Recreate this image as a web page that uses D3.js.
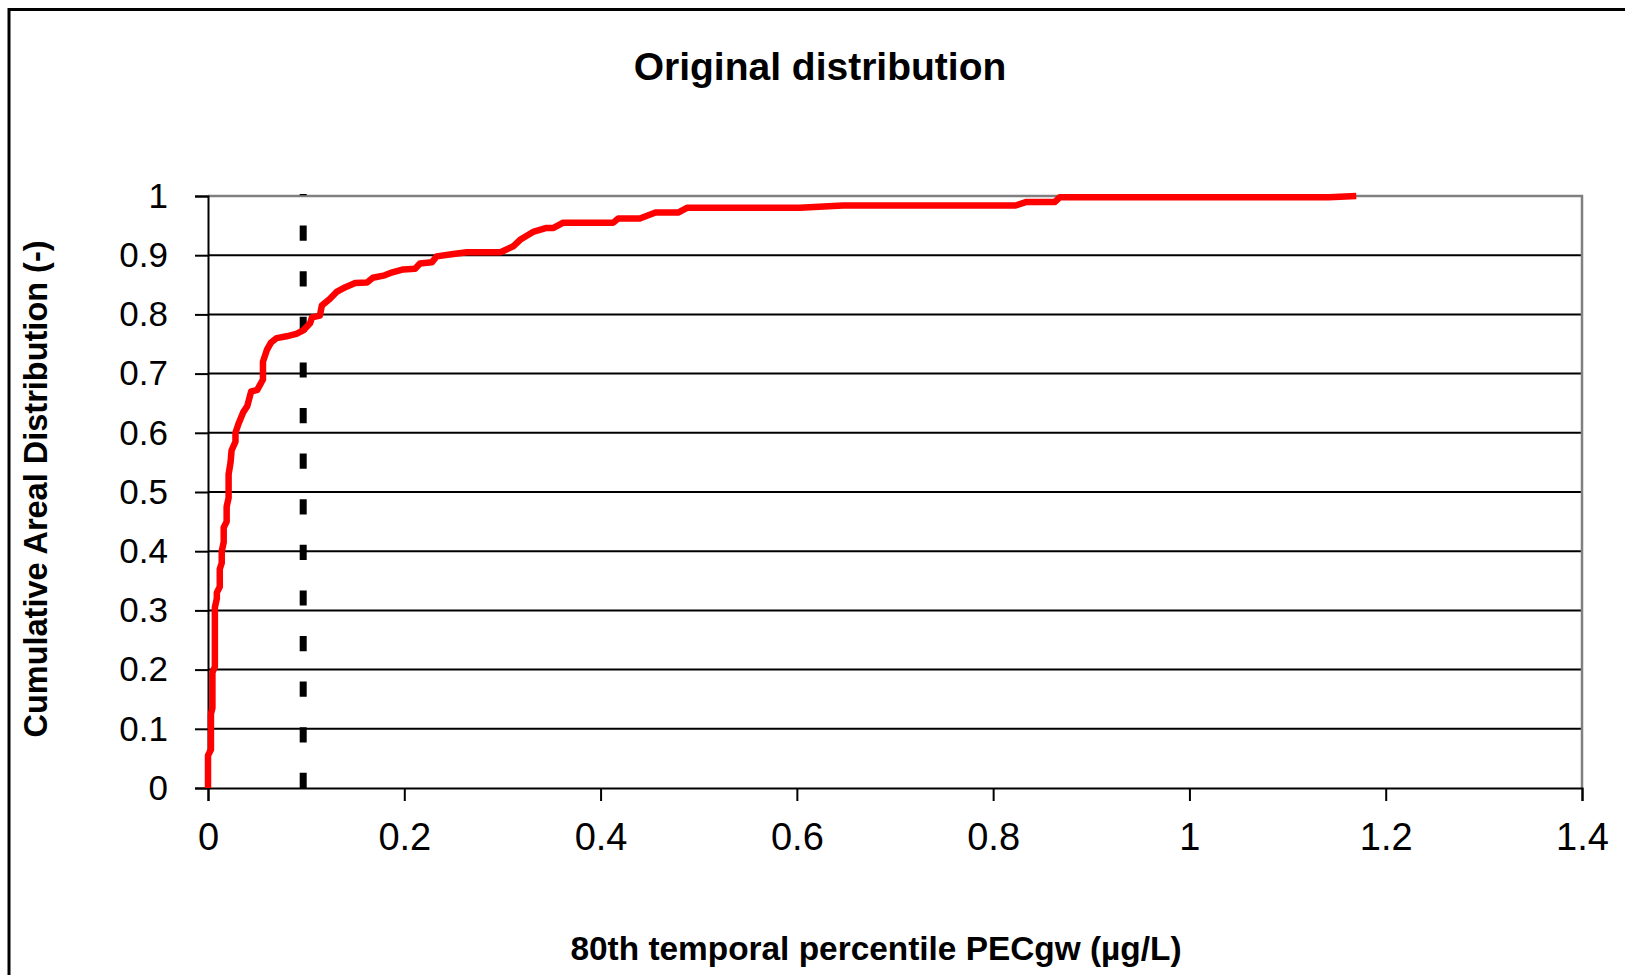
<!DOCTYPE html>
<html>
<head>
<meta charset="utf-8">
<script src="https://cdn.jsdelivr.net/npm/d3@7"></script>
<style>
  body { margin: 0; background: #fff; }
  text { font-family: "Liberation Sans", Arial, sans-serif; fill: #000; }
</style>
</head>
<body>
<div id="graph"></div>
<script>
var width = 1625;
var height = 975;

// cumulative curve
var pecValues = [0, 0.000, 0.003, 0.003, 0.0045, 0.0045, 0.007, 0.007, 0.009, 0.009,
    0.012, 0.012, 0.014, 0.014, 0.016, 0.016, 0.019, 0.019, 0.021, 0.021,
    0.023, 0.024, 0.028, 0.028, 0.031, 0.036, 0.040, 0.044, 0.050, 0.056,
    0.056, 0.060, 0.064, 0.070, 0.080, 0.090, 0.097, 0.104, 0.106, 0.114,
    0.116, 0.124, 0.131, 0.140, 0.150, 0.162, 0.168, 0.180, 0.186, 0.199,
    0.211, 0.216, 0.228, 0.233, 0.250, 0.264, 0.298, 0.311, 0.318, 0.332,
    0.345, 0.352, 0.362, 0.413, 0.418, 0.440, 0.456, 0.479, 0.488, 0.603,
    0.647, 0.823, 0.834, 0.863, 0.868, 1.142, 1.170];
var cumValues = [0, 0.055, 0.065, 0.125, 0.135, 0.195, 0.205, 0.305, 0.320, 0.330,
    0.340, 0.370, 0.380, 0.400, 0.415, 0.440, 0.450, 0.475, 0.490, 0.530,
    0.550, 0.570, 0.585, 0.600, 0.615, 0.635, 0.645, 0.670, 0.672, 0.690,
    0.720, 0.740, 0.752, 0.760, 0.763, 0.767, 0.773, 0.785, 0.795, 0.798,
    0.815, 0.826, 0.838, 0.846, 0.853, 0.854, 0.862, 0.866, 0.870, 0.876,
    0.877, 0.886, 0.888, 0.898, 0.902, 0.905, 0.905, 0.915, 0.926, 0.940,
    0.946, 0.946, 0.955, 0.955, 0.962, 0.962, 0.972, 0.972, 0.980, 0.980,
    0.984, 0.984, 0.990, 0.990, 0.998, 0.998, 1.000];
var thresholdValue = [0.097];
var xTicks = [0, 0.2, 0.4, 0.6, 0.8, 1, 1.2, 1.4];
var yTicks = [0, 0.1, 0.2, 0.3, 0.4, 0.5, 0.6, 0.7, 0.8, 0.9, 1];

var margin = {top: 196, right: 43, bottom: 187, left: 208};
var plotW = width - margin.left - margin.right;
var plotH = height - margin.top - margin.bottom;

var svg = d3.select("#graph")
    .append("svg")
    .attr("width", width)
    .attr("height", height);

// outer chart frame (only left and top edges are visible)
svg.append("path")
    .attr("d", "M9,980 L9,9.5 L1630,9.5")
    .attr("fill", "none")
    .attr("stroke", "#000")
    .attr("stroke-width", 3);

svg.append("text")
    .attr("x", 820)
    .attr("y", 80)
    .attr("text-anchor", "middle")
    .style("font-size", "39px")
    .style("font-weight", "bold")
    .text("Original distribution");

var g = svg.append("g")
    .attr("transform", "translate(" + margin.left + "," + margin.top + ")");

var x = d3.scaleLinear().domain([0, 1.4]).range([0, plotW]);
var y = d3.scaleLinear().domain([0, 1]).range([plotH, 0]);

// gridlines
g.append("g")
    .selectAll("line")
    .data(yTicks.filter(function(d) { return d > 0 && d < 1; }))
    .enter().append("line")
    .attr("x1", 0)
    .attr("x2", plotW)
    .attr("y1", function(d) { return y(d); })
    .attr("y2", function(d) { return y(d); })
    .attr("stroke", "#000")
    .attr("stroke-width", 2);

// plot border, top and right in grey
g.append("path")
    .attr("d", "M0," + y(1) + " L" + plotW + "," + y(1) + " L" + plotW + "," + y(0))
    .attr("fill", "none")
    .attr("stroke", "#808080")
    .attr("stroke-width", 2.5);

var xAxis = g.append("g")
    .attr("transform", "translate(0," + plotH + ")")
    .call(d3.axisBottom(x).tickValues(xTicks).tickSize(13).tickPadding(22)
        .tickFormat(function(d) { return d3.format("")(d); }));
xAxis.select(".domain").attr("stroke", "#000").attr("stroke-width", 2);
xAxis.selectAll(".tick line").attr("stroke", "#000").attr("stroke-width", 2);
xAxis.selectAll("text")
    .style("font-size", "38px")
    .attr("fill", "#000");

var yAxis = g.append("g")
    .call(d3.axisLeft(y).tickValues(yTicks).tickSize(13).tickPadding(27)
        .tickFormat(function(d) { return d3.format("")(d); }));
yAxis.select(".domain").attr("stroke", "#000").attr("stroke-width", 2);
yAxis.selectAll(".tick line").attr("stroke", "#000").attr("stroke-width", 2);
yAxis.selectAll("text")
    .style("font-size", "35px")
    .attr("fill", "#000");

// threshold marker, dashes laid out from the bottom up
g.selectAll(".threshold")
    .data(thresholdValue)
    .enter().append("line")
    .attr("class", "threshold")
    .attr("x1", function(d) { return x(d); })
    .attr("x2", function(d) { return x(d); })
    .attr("y1", y(0))
    .attr("y2", y(1) - 2)
    .attr("stroke", "#000")
    .attr("stroke-width", 7)
    .attr("stroke-dasharray", "15.2,30.4");

var points = pecValues.map(function(v, i) { return [v, cumValues[i]]; });

var line = d3.line()
    .x(function(d) { return x(d[0]); })
    .y(function(d) { return y(d[1]); });

g.append("path")
    .datum(points)
    .attr("d", line)
    .attr("fill", "none")
    .attr("stroke", "#ff0000")
    .attr("stroke-width", 6.5)
    .attr("stroke-linejoin", "round");

svg.append("text")
    .attr("x", 876)
    .attr("y", 960)
    .attr("text-anchor", "middle")
    .style("font-size", "33.4px")
    .style("font-weight", "bold")
    .text("80th temporal percentile PECgw (µg/L)");

svg.append("text")
    .attr("transform", "translate(47,489) rotate(-90)")
    .attr("text-anchor", "middle")
    .style("font-size", "32.5px")
    .style("font-weight", "bold")
    .text("Cumulative Areal Distribution (-)");
</script>
</body>
</html>
